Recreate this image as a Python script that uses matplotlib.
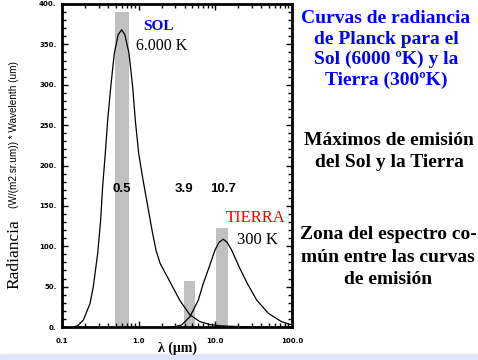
import matplotlib.pyplot as plt
from matplotlib.patches import Rectangle
from matplotlib.ticker import LogLocator, MultipleLocator, FixedFormatter, FixedLocator

# curva del Sol (6000 K): longitud de onda (um) y radiancia*lambda
sol_lam = [0.14, 0.16, 0.19, 0.232, 0.256, 0.292, 0.319, 0.339, 0.367, 0.394, 0.432,
           0.481, 0.54, 0.60, 0.66, 0.748, 0.836, 0.904, 1.0, 1.15, 1.323, 1.493,
           1.683, 1.9, 2.56, 3.44, 4.66, 6.3, 8.5, 11.5, 20.0, 40.0, 100.0]
sol_val = [0, 1.5, 8.7, 29, 50, 91, 132, 174, 215, 256, 297,
           339, 362, 368, 362, 339, 297, 256, 215, 180, 148, 120,
           95, 79, 56, 33, 15, 6.6, 3, 1.5, 0.5, 0.1, 0]

# curva de la Tierra (300 K)
tierra_lam = [2.5, 3.0, 3.64, 4.67, 6.0, 6.97, 8.34, 9.9, 11.2, 12.7, 14.2, 16.3,
              20.4, 26.1, 34.6, 49.0, 73.0, 100.0]
tierra_val = [0, 0.5, 2.5, 12.8, 33.4, 54, 74.7, 95.4, 105, 108.6, 105, 95.4,
              74.7, 54, 33.4, 17, 6.6, 2.5]

# barras grises (maximos y zona comun)
bar_ini = [0.49, 3.9, 10.2]
bar_fin = [0.75, 5.4, 14.5]
bar_alt = [390, 57, 123]
bar_txt = ['0.5', '3.9', '10.7']

xtick_pos = [0.1, 1.0, 10.0, 100.0]
xtick_lab = ['0.1', '1.0', '10.0', '100.0']
ytick_pos = [0, 50, 100, 150, 200, 250, 300, 350, 400]
ytick_lab = ['0.', '50.', '100.', '150.', '200.', '250.', '300.', '350.', '400.']

W, H = 478, 360
fig = plt.figure(figsize=(W / 100, H / 100), dpi=100)


def px(x, y):
    return x / W, 1 - y / H


ax = fig.add_axes([62 / W, 1 - 327 / H, 230 / W, 323 / H])
ax.set_xscale('log')
ax.set_xlim(0.1, 100)
ax.set_ylim(0, 400)

anchos = [f - i for i, f in zip(bar_ini, bar_fin)]
ax.bar(bar_ini, bar_alt, width=anchos, align='edge', color='#c0c0c0', zorder=1)
ax.plot(sol_lam, sol_val, color='black', lw=0.9, zorder=2)
ax.plot(tierra_lam, tierra_val, color='black', lw=0.9, zorder=2)

for s in ax.spines.values():
    s.set_linewidth(2)

ax.xaxis.set_major_locator(FixedLocator(xtick_pos))
ax.xaxis.set_major_formatter(FixedFormatter(xtick_lab))
ax.xaxis.set_minor_locator(LogLocator(base=10, subs=range(2, 10)))
ax.yaxis.set_major_locator(FixedLocator(ytick_pos))
ax.yaxis.set_major_formatter(FixedFormatter(ytick_lab))
ax.yaxis.set_minor_locator(MultipleLocator(25))
ax.tick_params(which='both', direction='in', top=True, right=True, width=1)
ax.tick_params(which='major', length=4)
ax.tick_params(which='minor', length=3)
ax.tick_params(axis='x', which='major', labelsize=5, pad=8)
ax.tick_params(axis='y', which='major', labelsize=5, pad=4)
ax.minorticks_on()
ax.xaxis.set_minor_formatter(FixedFormatter([]))
for lab in ax.get_xticklabels() + ax.get_yticklabels():
    lab.set_fontweight('bold')

serif = 'Liberation Serif'

# textos dentro del grafico
fig.text(*px(143, 26), 'SOL', color='#0000ff', fontsize=11, fontweight='bold',
         family=serif, va='center', ha='left')
fig.text(*px(136, 46), '6.000 K', color='black', fontsize=11.5,
         family=serif, va='center', ha='left')
fig.text(*px(226, 217.5), 'TIERRA', color='red', fontsize=12,
         family=serif, va='center', ha='left')
fig.text(*px(237, 240), '300 K', color='black', fontsize=12,
         family=serif, va='center', ha='left')
for t, xc in zip(bar_txt, [122, 184, 223]):
    fig.text(*px(xc, 189), t, fontsize=9.5, fontweight='bold',
             family='Liberation Sans', va='center', ha='center')

# etiquetas de los ejes
fig.text(*px(14, 254), 'Radiancia', rotation=90, fontsize=12.5, family=serif,
         va='center', ha='center')
fig.text(*px(14, 135), '(W/(m2.sr.um)) * Wavelenth (um)', rotation=90,
         fontsize=7.2, family='Liberation Sans', va='center', ha='center')
fig.text(*px(177, 348), 'λ (μm)', fontsize=10, fontweight='bold', family=serif,
         va='center', ha='center')

# textos de la derecha
fig.text(*px(386, 49.5), 'Curvas de radiancia\nde Planck para el\nSol (6000 ºK) y la\nTierra (300ºK)',
         color='#0000ff', fontsize=14, fontweight='bold', family=serif,
         va='center', ha='center', linespacing=1.24)
fig.text(*px(389, 151.5), 'Máximos de emisión\ndel Sol y la Tierra',
         color='black', fontsize=14, fontweight='bold', family=serif,
         va='center', ha='center', linespacing=1.36)
fig.text(*px(388, 257), 'Zona del espectro co-\nmún entre las curvas\nde emisión',
         color='black', fontsize=14, fontweight='bold', family=serif,
         va='center', ha='center', linespacing=1.39)

# banda inferior
fig.patches.append(Rectangle((0, 0), 1, 6 / H, transform=fig.transFigure,
                             color='#dfe6fa', zorder=0))

fig.savefig('out.png', dpi=100)
